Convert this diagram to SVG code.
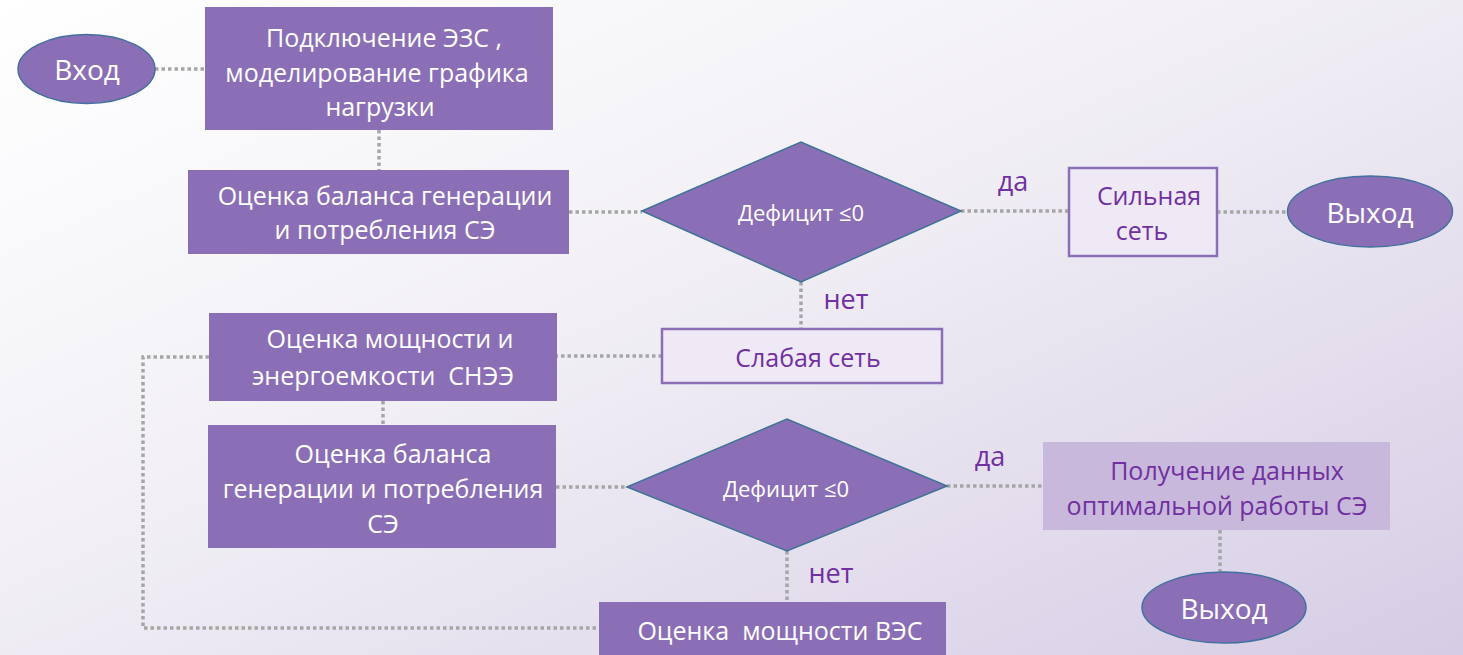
<svg xmlns="http://www.w3.org/2000/svg" width="1463" height="655" viewBox="0 0 1463 655">
<defs>
<linearGradient id="bg" x1="0" y1="0" x2="1" y2="1">
<stop offset="0" stop-color="#ffffff"/>
<stop offset="0.45" stop-color="#f1eff5"/>
<stop offset="1" stop-color="#d6cce5"/>
</linearGradient>
<style>
.box{fill:#8b6fb6}
.ell{fill:#8b6fb6;stroke:#41719c;stroke-width:1.5}
.dia{fill:#8b6fb6;stroke:#3f7396;stroke-width:1.5}
.out{fill:#efe9f6;stroke:#8b6fb6;stroke-width:2.5}
.lt{fill:#c8b8dc}
text{font-family:"Open Sans","Liberation Sans",sans-serif;text-anchor:middle;white-space:pre}
.w{fill:#ffffff;font-size:25px}
.o{fill:#ffffff;font-size:28px}
.p{fill:#7030a0;font-size:25px}
.d{fill:#ffffff;font-size:22px}
.l{fill:#7030a0;font-size:27px}
.c{fill:none;stroke:#a6a6a6;stroke-width:3.5;stroke-dasharray:3.5 3}
</style>
</defs>
<rect width="1463" height="655" fill="url(#bg)"/>
<g id="connectors">
<path class="c" d="M155 69H205"/>
<path class="c" d="M379 130V170"/>
<path class="c" d="M569 212H642"/>
<path class="c" d="M961 211H1069"/>
<path class="c" d="M1217 212H1288"/>
<path class="c" d="M801 282V330"/>
<path class="c" d="M662 356H557"/>
<path class="c" d="M209 357H143V628H599"/>
<path class="c" d="M383 401V425"/>
<path class="c" d="M556 487H627"/>
<path class="c" d="M947 486H1043"/>
<path class="c" d="M1220 530V572"/>
<path class="c" d="M787 551V602"/>
<text class="l" x="1013" y="191">да</text>
<text class="l" x="846" y="309">нет</text>
<text class="l" x="990" y="466">да</text>
<text class="l" x="831" y="583">нет</text>
</g>
<g id="vhod">
<ellipse class="ell" cx="86.5" cy="69" rx="68.5" ry="34.5"/>
<text class="o" x="87" y="80">Вход</text>
</g>
<g id="podkl">
<rect class="box" x="205" y="7" width="348" height="123"/>
<text class="w" x="384" y="47">Подключение ЭЗС ,</text>
<text class="w" x="377" y="82">моделирование графика</text>
<text class="w" x="380" y="116">нагрузки</text>
</g>
<g id="balans1">
<rect class="box" x="188" y="170" width="381" height="84"/>
<text class="w" x="385" y="205">Оценка баланса генерации</text>
<text class="w" x="385" y="239">и потребления СЭ</text>
</g>
<g id="deficit1">
<polygon class="dia" points="642,211 801,142 961,211 801,282"/>
<text class="d" x="801" y="221">Дефицит ≤0</text>
</g>
<g id="silnaya">
<rect class="out" x="1069" y="168" width="148" height="88"/>
<text class="p" x="1149" y="205">Сильная</text>
<text class="p" x="1142" y="240">сеть</text>
</g>
<g id="vyhod1">
<ellipse class="ell" cx="1370" cy="211.5" rx="82.5" ry="35.5"/>
<text class="o" x="1370" y="223">Выход</text>
</g>
<g id="slabaya">
<rect class="out" x="662" y="329" width="280" height="54"/>
<text class="p" x="808" y="367">Слабая сеть</text>
</g>
<g id="snee">
<rect class="box" x="209" y="313" width="348" height="88"/>
<text class="w" x="390" y="348">Оценка мощности и</text>
<text class="w" x="383" y="385">энергоемкости  СНЭЭ</text>
</g>
<g id="balans2">
<rect class="box" x="208" y="425" width="348" height="123"/>
<text class="w" x="393" y="463">Оценка баланса</text>
<text class="w" x="383" y="498">генерации и потребления</text>
<text class="w" x="383" y="533">СЭ</text>
</g>
<g id="deficit2">
<polygon class="dia" points="627,487 787,419 947,486 787,551"/>
<text class="d" x="786" y="497">Дефицит ≤0</text>
</g>
<g id="poluchenie">
<rect class="lt" x="1043" y="442" width="347" height="88"/>
<text class="p" x="1227" y="480">Получение данных</text>
<text class="p" x="1217" y="515">оптимальной работы СЭ</text>
</g>
<g id="vyhod2">
<ellipse class="ell" cx="1224" cy="607.5" rx="82" ry="35.5"/>
<text class="o" x="1224" y="619">Выход</text>
</g>
<g id="ves">
<rect class="box" x="599" y="602" width="347" height="60"/>
<text class="w" x="780" y="640">Оценка  мощности ВЭС</text>
</g>
</svg>
